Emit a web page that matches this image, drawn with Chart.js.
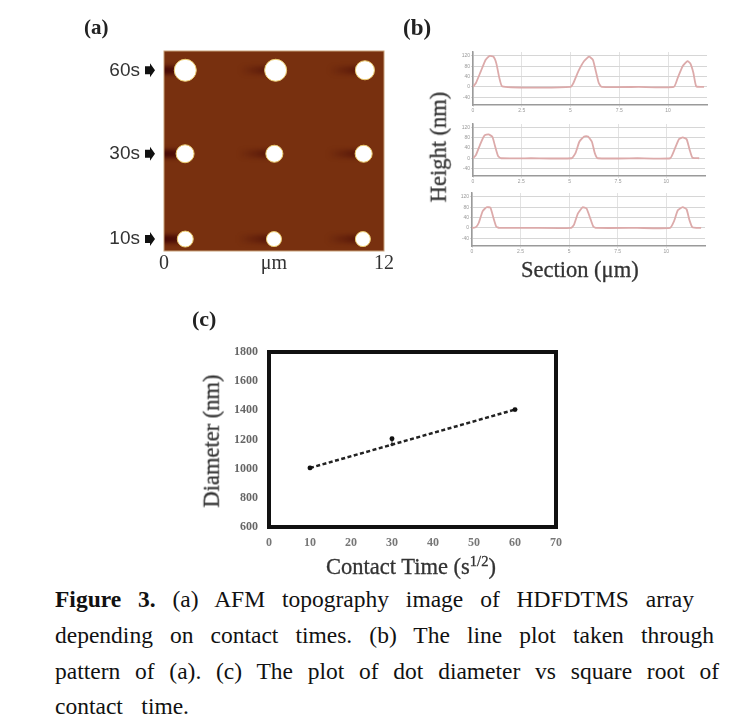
<!DOCTYPE html>
<html>
<head>
<meta charset="utf-8">
<title>Figure 3</title>
<script src="https://cdn.jsdelivr.net/npm/chart.js@4/dist/chart.umd.min.js"></script>
<style>
  body { margin: 0; background: #fff; width: 746px; height: 727px; overflow: hidden; position: relative; font-family: "Liberation Serif", serif; color: #222; }
  canvas { position: absolute; filter: blur(0.7px); }
  .lbl { position: absolute; white-space: nowrap; line-height: 1; filter: blur(0.4px); }
  .title { font-size: 22.5px; color: #333; -webkit-text-stroke: 0.3px #333; }
  .line { position: absolute; left: 55px; font-size: 23.5px; line-height: 1; text-align: justify; text-align-last: justify; color: #111; }
  sup { font-size: 0.65em; line-height: 0; }
</style>
</head>
<body>
<div class="lbl" style="left:84px;top:17px;font-size:21px;font-weight:bold">(a)</div>
<div class="lbl" style="left:403px;top:16px;font-size:23px;font-weight:bold">(b)</div>
<div class="lbl" style="left:192px;top:308px;font-size:22px;font-weight:bold">(c)</div>
<div class="lbl title" style="left:521px;top:259px">Section (μm)</div>
<div class="lbl title" style="left:439px;top:147px;transform:translate(-50%,-50%) rotate(-90deg)">Height (nm)</div>
<div class="lbl title" style="left:326px;top:556px">Contact Time (s<sup>1/2</sup>)</div>
<div class="lbl title" style="left:212px;top:441px;transform:translate(-50%,-50%) rotate(-90deg)">Diameter (nm)</div>

<canvas id="chartA"></canvas>
<canvas id="chartB1"></canvas>
<canvas id="chartB2"></canvas>
<canvas id="chartB3"></canvas>
<canvas id="chartC"></canvas>

<div class="line" style="top:588px;width:639px"><b>Figure 3.</b> (a) AFM topography image of HDFDTMS array</div>
<div class="line" style="top:624px;width:659px">depending on contact times. (b) The line plot taken through</div>
<div class="line" style="top:660px;width:664px">pattern of (a). (c) The plot of dot diameter vs square root of</div>
<div class="line" style="top:695px;width:134px">contact time.</div>

<script>
// (a) dots, in um from the lower left corner of the scan
const rowLabels = ["10s", "30s", "60s"];
const rowY = [0.65, 5.3, 9.85];
const dotX = [1.16, 6.0, 10.85, 1.15, 6.02, 10.89, 1.16, 6.09, 10.96];
const dotY = [0.65, 0.65, 0.65, 5.3, 5.3, 5.3, 9.85, 9.85, 9.85];
const dotD = [0.87, 0.82, 0.82, 0.98, 0.93, 0.93, 1.2, 1.2, 1.04];

// (b) height profiles
const profileTicksX = [0, 2.5, 5, 7.5, 10];
const profileTicksY = [-40, 0, 40, 80, 120];
const topX = [0, 0.15, 0.4, 0.65, 0.85, 1.05, 1.2, 1.35, 1.5, 3, 5.0, 5.15, 5.4, 5.7, 5.95, 6.15, 6.3, 6.45, 6.6, 8.5, 10.3, 10.5, 10.75, 11, 11.15, 11.3, 11.45, 11.85];
const topY = [0, 15, 60, 105, 120, 117, 90, 35, 2, -3, 0, 15, 60, 100, 117, 105, 60, 15, 0, 0, 0, 35, 80, 100, 90, 55, 2, 0];
const midX = [0, 0.15, 0.4, 0.6, 0.8, 1.0, 1.15, 1.3, 1.45, 3, 5.1, 5.3, 5.5, 5.75, 5.95, 6.15, 6.3, 6.45, 8.5, 10.2, 10.4, 10.65, 10.85, 11.05, 11.2, 11.35, 11.7];
const midY = [0, 12, 60, 90, 94, 85, 45, 8, 0, 0, 0, 20, 65, 86, 86, 65, 20, 0, 0, 0, 30, 75, 82, 75, 35, 2, 0];
const lowX = [0, 0.2, 0.35, 0.55, 0.75, 0.95, 1.1, 1.25, 1.4, 3, 5.1, 5.25, 5.45, 5.7, 5.9, 6.1, 6.25, 6.4, 8.5, 10.2, 10.4, 10.6, 10.85, 11.05, 11.2, 11.35, 11.8];
const lowY = [0, 3, 20, 65, 80, 78, 40, 5, 0, 0, 0, 12, 55, 80, 75, 35, 5, 0, 0, 0, 25, 68, 80, 72, 30, 3, 0];

// (c) diameter vs contact time
const timeTicks = [0, 10, 20, 30, 40, 50, 60, 70];
const diameterTicks = [600, 800, 1000, 1200, 1400, 1600, 1800];
const contactTime = [10, 30, 60];
const diameter = [1005, 1205, 1405];
const fitX = [10, 60];
const fitY = [1005, 1405];
const errorX = [30, 30];
const errorY = [1165, 1205];

const serif = "'Liberation Serif', serif";

// puts a canvas on the page so the plot area lands on the given box
function place(id, box, pad) {
  const el = document.getElementById(id);
  const w = box.right - box.left + pad.left + pad.right;
  const h = box.bottom - box.top + pad.top + pad.bottom;
  el.width = w;
  el.height = h;
  el.style.left = box.left - pad.left + "px";
  el.style.top = box.top - pad.top + "px";
  el.style.width = w + "px";
  el.style.height = h + "px";
  return el;
}

function baseOptions(pad) {
  return {
    responsive: false,
    animation: false,
    events: [],
    layout: { autoPadding: false, padding: { top: pad.top, right: pad.right, left: 0, bottom: 0 } },
    plugins: { legend: { display: false }, tooltip: { enabled: false } },
  };
}

// fixed axis box, no room taken for labels that hang over the ends
function fixSize(s, size) {
  if (s.isHorizontal()) s.height = size;
  else s.width = size;
  s.paddingTop = s.paddingBottom = s.paddingLeft = s.paddingRight = 0;
}

// ---- (a)
const afmBackground = {
  id: "afmBackground",
  beforeDatasetsDraw(chart) {
    const { ctx, chartArea: a, scales: { x, y } } = chart;
    ctx.save();
    ctx.fillStyle = "#78300f";
    ctx.fillRect(a.left, a.top, a.width, a.height);
    ctx.beginPath();
    ctx.rect(a.left, a.top, a.width, a.height);
    ctx.clip();
    // dark drag streak on the left of each dot
    ctx.filter = "blur(2px)";
    dotX.forEach((v, i) => {
      const right = x.getPixelForValue(v);
      const py = y.getPixelForValue(dotY[i]);
      const first = i % 3 === 0;
      const left = first ? a.left - 4 : right - 36;
      const g = ctx.createLinearGradient(left, 0, right, 0);
      g.addColorStop(0, first ? "rgba(65,5,5,0.95)" : "rgba(65,5,5,0)");
      g.addColorStop(1, first ? "rgba(65,5,5,0.7)" : "rgba(65,5,5,0.7)");
      ctx.fillStyle = g;
      ctx.fillRect(left, py - 4, right - left, 8);
    });
    ctx.filter = "none";
    ctx.restore();
    ctx.save();
    ctx.strokeStyle = "#c8a078";
    ctx.lineWidth = 1;
    ctx.strokeRect(a.left, a.top, a.width, a.height);
    ctx.restore();
  },
  afterDraw(chart) {
    const { ctx, chartArea: a, scales: { y } } = chart;
    ctx.save();
    ctx.fillStyle = "#111";
    rowY.forEach((v) => {
      const py = y.getPixelForValue(v);
      const ax = a.left - 19;
      ctx.beginPath();
      ctx.moveTo(ax, py - 4);
      ctx.lineTo(ax + 5, py - 4);
      ctx.lineTo(ax + 5, py - 7);
      ctx.lineTo(ax + 10, py);
      ctx.lineTo(ax + 5, py + 7);
      ctx.lineTo(ax + 5, py + 4);
      ctx.lineTo(ax, py + 4);
      ctx.closePath();
      ctx.fill();
    });
    ctx.restore();
  },
};

const padA = { left: 80, right: 12, top: 4, bottom: 28 };
new Chart(place("chartA", { left: 164, right: 384, top: 51, bottom: 251 }, padA), {
  type: "scatter",
  data: {
    datasets: [{
      data: dotX.map((v, i) => ({ x: v, y: dotY[i], d: dotD[i] })),
      backgroundColor: "#ffffff",
      borderColor: "#eccb6c",
      borderWidth: 1,
      pointRadius: (c) => {
        const sx = c.chart.scales.x;
        return (sx.getPixelForValue(c.raw.d) - sx.getPixelForValue(0)) / 2;
      },
    }],
  },
  options: {
    ...baseOptions(padA),
    scales: {
      x: {
        type: "linear", min: 0, max: 12,
        afterFit: (s) => fixSize(s, padA.bottom),
        afterBuildTicks: (s) => { s.ticks = [{ value: 0 }, { value: 6 }, { value: 12 }]; },
        grid: { display: false, drawTicks: false },
        border: { display: false },
        ticks: {
          autoSkip: false, maxRotation: 0, padding: 1, color: "#333",
          font: { family: serif, size: 20 },
          callback: (v) => (v === 6 ? "μm" : String(v)),
        },
      },
      y: {
        type: "linear", min: 0, max: 10.9,
        afterFit: (s) => fixSize(s, padA.left),
        afterBuildTicks: (s) => { s.ticks = rowY.map((v) => ({ value: v })); },
        grid: { display: false, drawTicks: false },
        border: { display: false },
        ticks: {
          autoSkip: false, padding: 24, color: "#333",
          font: { family: "'Liberation Sans', sans-serif", size: 19 },
          callback: (v) => rowLabels[rowY.indexOf(v)],
        },
      },
    },
  },
  plugins: [afmBackground],
});

// ---- (b)
function profile(id, box, xs, ys) {
  const pad = { left: 22, right: 6, top: 4, bottom: 12 };
  new Chart(place(id, box, pad), {
    type: "scatter",
    data: {
      datasets: [{
        data: xs.map((v, i) => ({ x: v, y: ys[i] })),
        showLine: true,
        borderColor: "#dcaaaa",
        borderWidth: 1.8,
        pointRadius: 0,
        tension: 0.15,
      }],
    },
    options: {
      ...baseOptions(pad),
      scales: {
        x: {
          type: "linear", min: 0, max: 12,
          afterFit: (s) => fixSize(s, pad.bottom),
          afterBuildTicks: (s) => { s.ticks = profileTicksX.map((v) => ({ value: v })); },
          grid: { color: "#e2e2e2", lineWidth: 1, tickLength: 2 },
          border: { color: "#9a9a9a", width: 1.5 },
          ticks: { autoSkip: false, maxRotation: 0, padding: 1, color: "#999", font: { size: 5 } },
        },
        y: {
          type: "linear", min: -70, max: 135,
          afterFit: (s) => fixSize(s, pad.left),
          afterBuildTicks: (s) => { s.ticks = profileTicksY.map((v) => ({ value: v })); },
          grid: { color: "#d6d6d6", lineWidth: 1, tickLength: 2 },
          border: { color: "#9a9a9a", width: 1.5 },
          ticks: { autoSkip: false, padding: 1, color: "#999", font: { size: 5 } },
        },
      },
    },
  });
}
profile("chartB1", { left: 473, right: 707, top: 52, bottom: 105 }, topX, topY);
profile("chartB2", { left: 473, right: 705, top: 124, bottom: 176 }, midX, midY);
profile("chartB3", { left: 472, right: 705, top: 193, bottom: 246 }, lowX, lowY);

// ---- (c)
const frame = {
  id: "frame",
  afterDraw(chart) {
    const { ctx, chartArea: a } = chart;
    ctx.save();
    ctx.strokeStyle = "#111";
    ctx.lineWidth = 4;
    ctx.strokeRect(a.left, a.top, a.width, a.height);
    ctx.restore();
  },
};

const padC = { left: 44, right: 16, top: 8, bottom: 24 };
new Chart(place("chartC", { left: 269, right: 556, top: 352, bottom: 527 }, padC), {
  type: "scatter",
  data: {
    datasets: [
      { data: contactTime.map((v, i) => ({ x: v, y: diameter[i] })), backgroundColor: "#111", pointRadius: 2.4 },
      { data: fitX.map((v, i) => ({ x: v, y: fitY[i] })), showLine: true, borderColor: "#222", borderWidth: 2.5, borderDash: [4, 2.5], pointRadius: 0 },
      { data: errorX.map((v, i) => ({ x: v, y: errorY[i] })), showLine: true, borderColor: "#333", borderWidth: 1, pointRadius: 1.2, backgroundColor: "#333" },
    ],
  },
  options: {
    ...baseOptions(padC),
    scales: {
      x: {
        type: "linear", min: 0, max: 70,
        afterFit: (s) => fixSize(s, padC.bottom),
        afterBuildTicks: (s) => { s.ticks = timeTicks.map((v) => ({ value: v })); },
        grid: { display: false, drawTicks: false },
        border: { display: false },
        ticks: { autoSkip: false, maxRotation: 0, padding: 9, color: "#777", font: { family: serif, size: 12, weight: "bold" }, callback: (v) => String(v) },
      },
      y: {
        type: "linear", min: 600, max: 1800,
        afterFit: (s) => fixSize(s, padC.left),
        afterBuildTicks: (s) => { s.ticks = diameterTicks.map((v) => ({ value: v })); },
        grid: { display: false, drawTicks: false },
        border: { display: false },
        ticks: { autoSkip: false, padding: 11, color: "#666", font: { family: serif, size: 12, weight: "bold" }, callback: (v) => String(v) },
      },
    },
  },
  plugins: [frame],
});
</script>
</body>
</html>
